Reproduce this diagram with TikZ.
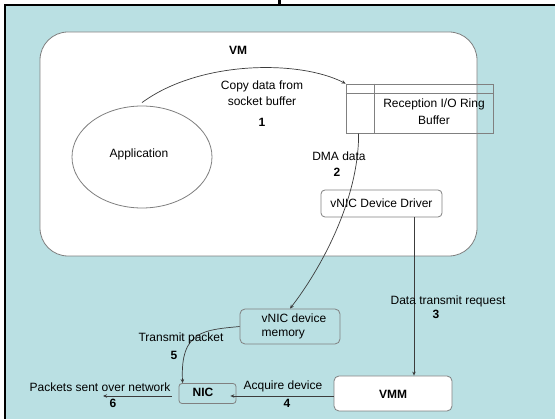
\documentclass[tikz,border=0pt]{standalone}
\usepackage{fontspec}
\setmainfont{Liberation Sans}
\usetikzlibrary{arrows.meta,shapes.geometric}
\definecolor{bgblue}{RGB}{186,224,227}
\definecolor{edgegray}{RGB}{128,128,128}
\definecolor{wire}{RGB}{60,60,60}
\begin{document}
\begin{tikzpicture}[x=1pt,y=-1pt,
  every node/.style={font=\fontsize{12}{16}\selectfont, inner sep=0pt, text=black},
  box/.style={draw=edgegray, line width=0.8pt, rounded corners=4pt},
  arr/.style={draw=wire, line width=0.7pt, -{Stealth[length=4pt,width=3.5pt]}},
  num/.style={font=\fontsize{12}{14}\selectfont\bfseries}]
\useasboundingbox (0,0) rectangle (555,419);
% page and frame
\fill[white] (0,0) rectangle (555,419);
\fill[bgblue] (5,5) rectangle (555,419);
\draw[line width=2pt] (5,419) -- (5,5) -- (555,5);
\fill[black] (277.5,0) rectangle (280.5,4);

% virtual machine area
\node[draw=edgegray, line width=0.8pt, fill=white, rounded corners=28pt,
      minimum width=437pt, minimum height=224pt] (vm) at (258.5,144) {};
\node[font=\fontsize{12}{14}\selectfont\bfseries] (vmtxt) at (238,50) {VM};

% application
\node[ellipse, draw=edgegray, line width=0.8pt, fill=white,
      minimum width=140pt, minimum height=102pt] (app) at (142,157) {};
\node (apptxt) at (139,154) {Application};

% reception ring buffer
\node[draw=edgegray, line width=0.8pt, minimum width=147pt, minimum height=49pt] (buf) at (419.5,108.5) {};
\draw[edgegray, line width=0.8pt] ([yshift=-10pt]buf.north west) -- ([yshift=-10pt]buf.north east);
\draw[edgegray, line width=0.8pt] ([xshift=29pt]buf.north west) -- ([xshift=29pt]buf.south west);
\node[align=center, font=\fontsize{12}{17}\selectfont] (buftxt) at (434,111.5) {Reception I/O Ring\\Buffer};

% driver, device memory, NIC, VMM
\node[box, fill=white, minimum width=121pt, minimum height=27pt] (drv) at (381.5,203.5) {vNIC Device Driver};
\node[box, rounded corners=5pt, fill=bgblue, minimum width=100pt, minimum height=35pt] (mem) at (290,326.5) {};
\node[align=left, font=\fontsize{12}{14}\selectfont] (memtxt) at (294,326) {vNIC device\\memory};
\node[box, rounded corners=3pt, fill=bgblue, minimum width=57pt, minimum height=20pt] (nic) at (207.5,393.5) {};
\node[num] (nictxt) at (203,392.5) {NIC};
\node[box, rounded corners=5pt, fill=white, minimum width=118pt, minimum height=35pt] (vmm) at (393,393.5) {};
\node[num] (vmmtxt) at (393,394) {VMM};

% connectors
\draw[arr] ([yshift=3pt]app.north) .. controls (200,60) and (300,60) .. (buf.north west);
\draw[arr] ([xshift=13pt]buf.south west) .. controls (359,200) and (320,270) .. (mem.north);
\draw[arr] ([xshift=32.5pt]drv.south) -- ([xshift=21pt]vmm.north);
\draw[arr] ([yshift=-2.5pt]vmm.west) -- ([xshift=-6pt,yshift=-2.5pt]nic.east);
\draw[arr] (mem.west) .. controls (205,330) and (180,330) .. ([xshift=4pt]nic.north west);
\coordinate (net) at (103,396);
\draw[arr] ([xshift=-7pt,yshift=-2.5pt]nic.west) -- (net);

% labels
\node[align=center] (l1) at (262,93) {Copy data from\\socket buffer};
\node[num] (n1) at (262,122) {1};
\node (l2) at (339,156) {DMA data};
\node[num] (n2) at (337,172) {2};
\node (l3) at (448,301) {Data transmit request};
\node[num] (n3) at (436,314) {3};
\node (l4) at (283,386) {Acquire device};
\node[num] (n4) at (287,403) {4};
\node (l5) at (181,338) {Transmit packet};
\node[num] (n5) at (174,355) {5};
\node (l6) at (100,387) {Packets sent over network};
\node[num] (n6) at (113,403) {6};
\end{tikzpicture}
\end{document}
